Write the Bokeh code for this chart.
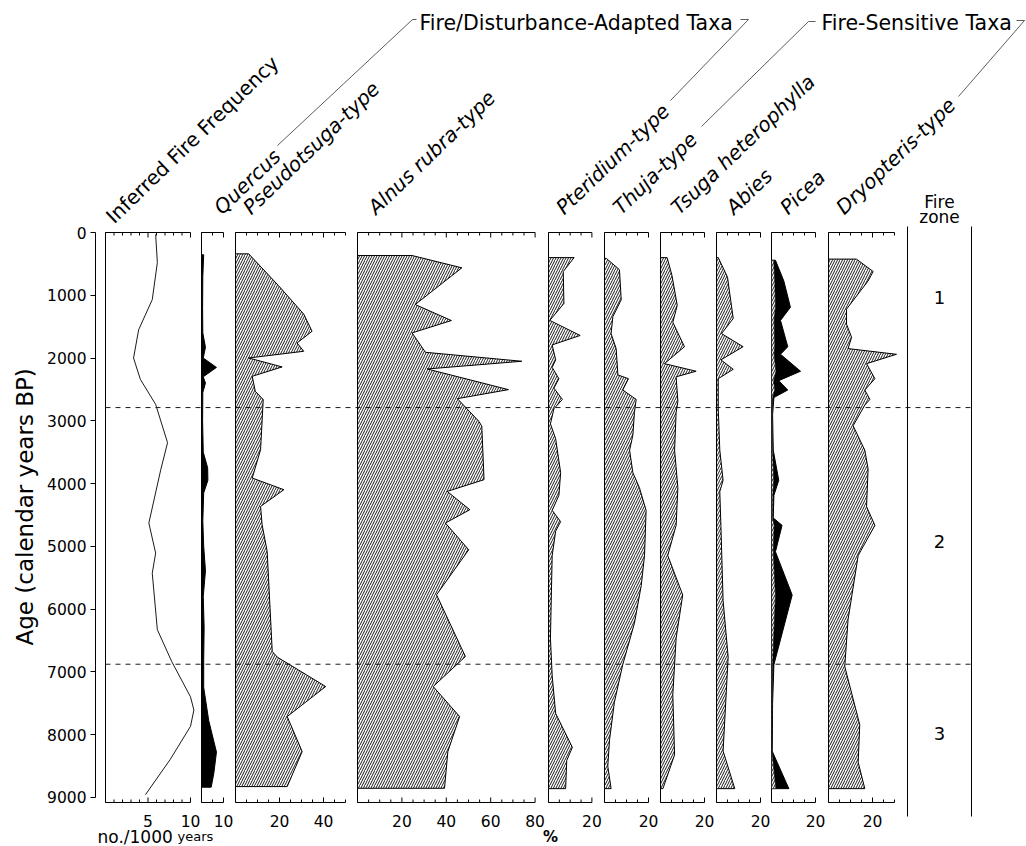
import math
from bokeh.plotting import figure
from bokeh.models import Range1d, FixedTicker, Title
from bokeh.embed import file_html
from bokeh.resources import INLINE
from bokeh.core.properties import value

# ---------------------------------------------------------------------------
# Data: ages in calendar years BP, values in % (fire frequency in no./1000 yr)
# ---------------------------------------------------------------------------
AGE_TICKS = [0, 1000, 2000, 3000, 4000, 5000, 6000, 7000, 8000, 9000]

FIRE_AGES = [30, 480, 1070, 1550, 2000, 2340, 2740, 3350, 3780, 4630, 5110,
             5430, 6330, 6840, 7400, 7610, 7870, 8400, 8960]
FIRE_FREQ = [5.9, 6.1, 5.5, 3.9, 3.3, 4.1, 5.9, 7.3, 6.5, 5.1, 5.9,
             5.5, 6.1, 7.8, 10.0, 10.4, 10.0, 7.6, 4.7]

QUERCUS_AGES = [355, 700, 1200, 1600, 1830, 2000, 2150, 2300, 2400, 2550, 3000,
                3500, 3750, 3950, 4150, 4600, 5000, 5390, 5800, 6300, 6800,
                7250, 7780, 8280, 8620, 8840]
QUERCUS = [1.0, 0.6, 0.5, 0.6, 1.8, 0.8, 6.8, 0.8, 1.8, 0.6, 0.5,
           0.8, 2.8, 2.9, 1.0, 0.6, 1.0, 1.8, 0.8, 1.2, 1.0,
           1.0, 3.3, 6.8, 5.6, 4.4]

PSEUDO_AGES = [340, 845, 1300, 1574, 1760, 1893, 2000, 2142, 2292, 2531, 2663,
               3461, 3913, 4099, 4365, 4657, 5082, 6677, 6767, 7236, 7714,
               8272, 8830]
PSEUDO = [6.0, 19.5, 31.0, 34.8, 28.0, 31.0, 6.0, 21.2, 7.6, 9.0, 12.6,
          11.4, 7.6, 22.0, 11.4, 12.1, 14.4, 16.7, 19.0, 41.0, 23.5,
          30.3, 23.5]

ALNUS_AGES = [367, 563, 1148, 1403, 1600, 1909, 2052, 2175, 2504, 2648, 3010,
              3089, 3939, 4126, 4418, 4630, 5056, 5773, 6757, 7236, 7714,
              8272, 8857]
ALNUS = [24.6, 47.0, 26.0, 42.3, 24.6, 30.6, 74.0, 31.4, 68.0, 45.0, 54.7,
         56.0, 57.0, 40.4, 50.6, 39.6, 50.1, 35.6, 48.6, 34.1, 46.0,
         40.7, 39.2]

PTER_AGES = [400, 622, 1131, 1401, 1641, 1791, 2030, 2150, 2330, 2480, 2660,
             2809, 3049, 3289, 3828, 4188, 4428, 4608, 4758, 5147, 6466,
             7066, 7664, 8205, 8414, 8863]
PTER = [11.8, 6.8, 7.1, 0.6, 14.6, 1.7, 3.3, 1.7, 4.8, 2.5, 6.4,
        2.5, 0.9, 3.3, 5.6, 4.8, 1.7, 5.6, 3.3, 1.7, 0.9,
        1.7, 3.3, 11.0, 8.4, 7.9]

THUJA_AGES = [412, 592, 1072, 1341, 1611, 1850, 2270, 2330, 2510, 2660, 2870,
              3230, 3469, 3828, 4069, 4428, 5147, 5627, 6227, 6886, 7485,
              8084, 8505, 8863]
THUJA = [0.8, 6.8, 7.6, 3.8, 3.0, 5.3, 6.1, 10.9, 8.3, 14.4, 13.6,
         12.9, 11.4, 12.9, 15.9, 18.9, 18.2, 16.7, 13.6, 8.3, 4.5,
         2.3, 1.5, 3.0]

TSUGA_AGES = [400, 682, 1161, 1431, 1820, 2090, 2211, 2300, 2690, 2870, 3469,
              4069, 4667, 5147, 5777, 6466, 7366, 8324, 8863]
TSUGA = [3.0, 5.2, 7.6, 5.6, 10.9, 1.8, 16.2, 7.1, 7.9, 7.1, 6.4,
         7.9, 7.1, 3.3, 10.1, 7.1, 5.6, 6.4, 1.1]

ABIES_AGES = [400, 712, 1371, 1611, 1820, 2030, 2180, 2330, 2809, 3469, 3949,
              4128, 4667, 5866, 6766, 8264, 8863]
ABIES = [0.8, 5.0, 7.6, 2.3, 12.1, 2.0, 7.6, 0.8, 0.8, 1.5, 3.0,
         1.5, 2.0, 3.0, 5.3, 3.0, 8.3]

PICEA_AGES = [442, 772, 1191, 1401, 1820, 1941, 2211, 2361, 2510, 2630, 2900,
              3469, 3949, 4188, 4548, 4667, 5087, 5777, 6886, 7500, 8264, 8863]
PICEA = [1.8, 5.6, 8.6, 4.1, 7.4, 4.1, 13.2, 3.3, 7.4, 1.1, 0.5,
         0.8, 3.3, 1.1, 0.8, 4.8, 1.8, 9.4, 1.1, 0.5, 0.3, 7.9]
PICEA_INNER = [1.0, 1.5, 1.8, 1.2, 1.5, 1.2, 2.0, 1.0, 1.5, 0.5, 0.3,
               0.5, 1.0, 0.6, 0.5, 1.2, 0.8, 1.8, 0.5, 0.3, 0.2, 2.0]

DRYO_AGES = [424, 622, 772, 1221, 1461, 1671, 1850, 1941, 2090, 2330, 2510,
             2660, 2750, 3080, 3469, 3769, 4369, 4667, 5147, 6166, 6916,
             7844, 8444, 8863]
DRYO = [12.7, 20.3, 18.0, 8.2, 8.2, 10.5, 8.9, 30.9, 17.3, 21.1, 16.5,
        18.8, 16.5, 11.2, 16.5, 18.0, 17.3, 21.1, 13.5, 8.9, 7.4,
        14.2, 13.5, 16.5]

ZONE_BOUNDS = [2790, 6880]
ZONE_NAMES = ["1", "2", "3"]
ZONE_LABEL_AGES = [1035, 4925, 7985]

# ---------------------------------------------------------------------------
# Page geometry (pixels)
# ---------------------------------------------------------------------------
W, H = 1026, 846
FRAME_LEFT = 95
AGE0_PX = 232
PX_PER_YEAR = 0.06275
TOP_PX = 232
BOTTOM_PX = 802
FONT = value("DejaVu Sans")
HATCH = dict(hatch_pattern="/", hatch_scale=5, hatch_weight=0.9,
             hatch_color="black")
LABEL_ANGLE = math.radians(44)

# name, left px, px per unit, axis max, tick step, labelled ticks,
# ages, values, fill style, label text, label offset, italic
PANELS = [
    ("fire", 105, 8.5, 10, 1, [5, 10], FIRE_AGES, FIRE_FREQ, "curve",
     "Inferred Fire Frequency", 5, False),
    ("quercus", 201, 2.2, 10, 5, [10], QUERCUS_AGES, QUERCUS, "black",
     "Quercus", 17, True),
    ("pseudo", 235, 2.2, 50, 5, [20, 40], PSEUDO_AGES, PSEUDO, "hatch",
     "Pseudotsuga-type", 12, True),
    ("alnus", 357, 2.22, 80, 5, [20, 40, 60, 80], ALNUS_AGES, ALNUS, "hatch",
     "Alnus rubra-type", 15, True),
    ("pter", 548, 2.17, 20, 5, [20], PTER_AGES, PTER, "hatch",
     "Pteridium-type", 12, True),
    ("thuja", 604, 2.2, 20, 5, [20], THUJA_AGES, THUJA, "hatch",
     "Thuja-type", 13, True),
    ("tsuga", 660, 2.2, 20, 5, [20], TSUGA_AGES, TSUGA, "hatch",
     "Tsuga heterophylla", 15, True),
    ("abies", 716, 2.2, 20, 5, [20], ABIES_AGES, ABIES, "hatch",
     "Abies", 14, True),
    ("picea", 771, 2.2, 20, 5, [20], PICEA_AGES, PICEA, "black",
     "Picea", 13, True),
    ("dryo", 828, 2.2, 30, 5, [20], DRYO_AGES, DRYO, "hatch",
     "Dryopteris-type", 12, True),
]

p = figure(width=W, height=H, output_backend="svg", toolbar_location=None,
           x_range=Range1d(FRAME_LEFT, W),
           y_range=Range1d((H - AGE0_PX) / PX_PER_YEAR, -AGE0_PX / PX_PER_YEAR),
           x_axis_location=None, y_axis_location="left",
           min_border_left=FRAME_LEFT, min_border_right=0,
           min_border_top=0, min_border_bottom=0)
p.extra_y_ranges = {"px": Range1d(H, 0)}
p.grid.visible = False
p.outline_line_color = None
p.background_fill_color = "white"
p.border_fill_color = "white"

# Age axis
ax = p.yaxis[0]
ax.ticker = FixedTicker(ticks=AGE_TICKS)
ax.bounds = (0, 9000)
ax.major_label_text_font = "DejaVu Sans"
ax.major_label_text_font_size = "15.5px"
ax.major_label_text_color = "black"
ax.major_label_standoff = 4
ax.major_tick_out = 5
ax.major_tick_in = 0
ax.minor_tick_out = 0
ax.minor_tick_in = 0
ax.axis_line_color = "black"
ax.major_tick_line_color = "black"

# axis title, placed beside the 0-9000 span rather than the whole frame
p.add_layout(Title(text="Age (calendar years BP)", align="left", offset=201,
                   text_font="DejaVu Sans", text_font_size="23px",
                   text_font_style="normal", text_color="black",
                   standoff=13), "left")

ranges = {}
for (name, left, scale, *_rest) in PANELS:
    ranges[name] = Range1d((FRAME_LEFT - left) / scale, (W - left) / scale)
p.extra_x_ranges = ranges

for (name, left, scale, amax, step, labelled, ages, vals, style,
     label, loff, italic) in PANELS:
    kw = dict(x_range_name=name, y_range_name="px")
    # panel frame: left edge, top and bottom axis lines
    p.segment(x0=[0, 0, 0], y0=[TOP_PX, TOP_PX, BOTTOM_PX],
              x1=[0, amax, amax], y1=[BOTTOM_PX, TOP_PX, BOTTOM_PX],
              line_color="black", line_width=1, **kw)
    ticks = list(range(0, amax + 1, step))
    big = [t for t in ticks if t in labelled]
    small = [t for t in ticks if t not in labelled]
    p.segment(x0=small, x1=small, y0=[TOP_PX] * len(small),
              y1=[TOP_PX + 3] * len(small), line_color="black", **kw)
    p.segment(x0=small, x1=small, y0=[BOTTOM_PX] * len(small),
              y1=[BOTTOM_PX - 3] * len(small), line_color="black", **kw)
    p.segment(x0=big, x1=big, y0=[TOP_PX] * len(big),
              y1=[TOP_PX + 5] * len(big), line_color="black", **kw)
    p.segment(x0=big, x1=big, y0=[BOTTOM_PX] * len(big),
              y1=[BOTTOM_PX - 5] * len(big), line_color="black", **kw)
    p.text(x=labelled, y=[820] * len(labelled), text=[str(t) for t in labelled],
           text_align="center", text_baseline="alphabetic", text_font=FONT,
           text_font_size="15.5px", text_color="black", **kw)

    # taxon curve
    if style == "curve":
        p.line(x=vals, y=ages, x_range_name=name, line_color="black",
               line_width=0.9)
    else:
        xs = [0] + vals + [0]
        ys = [ages[0]] + ages + [ages[-1]]
        if style == "black":
            p.patch(x=xs, y=ys, x_range_name=name, fill_color="black",
                    line_color="black", line_width=1)
        else:
            p.patch(x=xs, y=ys, x_range_name=name, fill_color="white",
                    line_color="black", line_width=1, **HATCH)

    # rotated column label
    base_y = 222 if name == "fire" else 213
    p.text(x=[left + loff - 1], y=[base_y - 3], text=[label],
           angle=LABEL_ANGLE, text_align="left",
           text_baseline="alphabetic", text_font=FONT, text_font_size="20px",
           text_font_style="italic" if italic else "normal",
           text_color="black", y_range_name="px")

# Picea: unexaggerated values inside the black silhouette
p.patch(x=[0] + PICEA_INNER + [0],
        y=[PICEA_AGES[0]] + PICEA_AGES + [PICEA_AGES[-1]],
        x_range_name="picea", fill_color="white", line_color="black",
        line_width=0.6, **HATCH)

# fire-zone boundaries
p.segment(x0=[105] * len(ZONE_BOUNDS), x1=[972] * len(ZONE_BOUNDS),
          y0=ZONE_BOUNDS, y1=ZONE_BOUNDS, line_color="black",
          line_width=0.9, line_dash="5 5")

# fire-zone column
p.segment(x0=[907, 971], x1=[907, 971], y0=[226, 226], y1=[816, 816],
          line_color="black", line_width=1, y_range_name="px")
p.text(x=[939, 939], y=[201, 216], text=["Fire", "zone"], text_align="center",
       text_baseline="alphabetic", text_font=FONT, text_font_size="17px",
       text_color="black", y_range_name="px")
p.text(x=[939] * len(ZONE_NAMES), y=ZONE_LABEL_AGES, text=ZONE_NAMES,
       text_align="center", text_baseline="middle", text_font=FONT,
       text_font_size="18px", text_color="black")

# taxon group brackets
p.multi_line(xs=[[277, 412, 416], [740, 748, 670],
                 [701, 808, 815], [1016, 1024, 958]],
             ys=[[145, 19, 19], [19, 19, 100], [126, 21, 21], [20, 20, 96]],
             line_color="#333333", line_width=0.8, y_range_name="px")
p.text(x=[419, 821], y=[22, 22],
       text=["Fire/Disturbance-Adapted Taxa", "Fire-Sensitive Taxa"],
       text_align="left", text_baseline="alphabetic", text_font=FONT,
       text_font_size="20.5px", text_color="black", y_range_name="px")

# units under the axes
p.text(x=[97], y=[836], text=["no./1000"], text_align="left",
       text_baseline="alphabetic", text_font=FONT, text_font_size="17px",
       text_color="black", y_range_name="px")
p.text(x=[177], y=[836], text=["years"], text_align="left",
       text_baseline="alphabetic", text_font=FONT, text_font_size="13px",
       text_color="black", y_range_name="px")
p.text(x=[550], y=[836], text=["%"], text_align="center",
       text_baseline="alphabetic", text_font=FONT, text_font_size="15px",
       text_font_style="bold", text_color="black", y_range_name="px")

open("out.html", "w").write(file_html(p, INLINE))
